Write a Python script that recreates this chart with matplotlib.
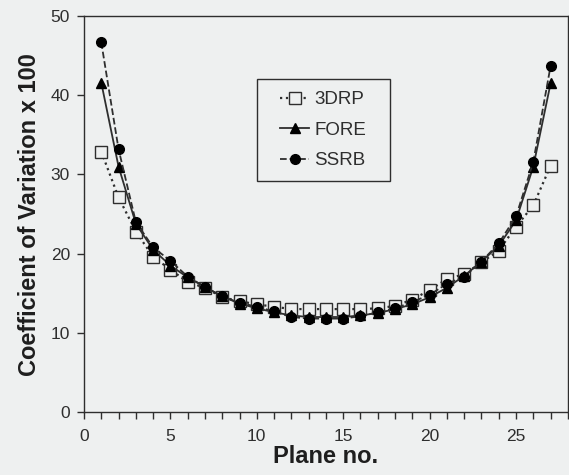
import matplotlib.pyplot as plt
from matplotlib.ticker import MultipleLocator
from matplotlib.patches import Rectangle

plt.rcParams['font.family'] = ['Liberation Sans', 'DejaVu Sans']

planes = list(range(1, 28))
drp3 = [32.9, 27.1, 22.8, 19.6, 18.0, 16.4, 15.7, 14.5, 14.0, 13.6, 13.3, 13.0, 13.0,
        13.0, 13.0, 13.0, 13.1, 13.4, 14.2, 15.4, 16.8, 17.4, 18.9, 20.4, 23.4, 26.1, 31.1]
fore = [41.6, 31.0, 23.8, 20.5, 18.5, 17.0, 15.8, 14.6, 13.7, 13.1, 12.6, 12.2, 12.0,
        12.0, 12.0, 12.2, 12.5, 13.0, 13.6, 14.5, 15.7, 17.2, 19.0, 21.0, 24.2, 31.0, 41.5]
ssrb = [46.7, 33.2, 24.0, 20.8, 19.1, 17.1, 15.8, 14.6, 13.8, 13.3, 12.7, 12.0, 11.8,
        11.8, 11.8, 12.1, 12.6, 13.1, 13.9, 14.8, 16.2, 17.1, 19.0, 21.3, 24.7, 31.6, 43.7]

bg = '#eef0f0'
ink = '#2e2e2e'

fig = plt.figure(figsize=(5.69, 4.75), dpi=100, facecolor=bg)
ax = fig.add_axes([0.1476, 0.1326, 0.8504, 0.8334])
ax.set_facecolor(bg)

ax.plot(planes, drp3, linestyle=':', color=ink, linewidth=1.6, marker='s', markersize=8,
        markerfacecolor=bg, markeredgecolor=ink, markeredgewidth=1.0, label='3DRP')
ax.plot(planes, fore, linestyle='-', color=ink, linewidth=1.3, marker='^', markersize=7,
        markerfacecolor='black', markeredgecolor='black', label='FORE')
ax.plot(planes, ssrb, linestyle='--', color=ink, linewidth=1.3, marker='o', markersize=7,
        markerfacecolor='black', markeredgecolor='black', label='SSRB')

ax.set_xlim(0, 28)
ax.set_ylim(0, 50)
ax.xaxis.set_minor_locator(MultipleLocator(1))
ax.yaxis.set_major_locator(MultipleLocator(10))
ax.set_xticks([0, 5, 10, 15, 20, 25])
ax.tick_params(axis='both', which='both', direction='out', length=5, width=1.0,
               colors=ink, labelsize=12.5)
ax.tick_params(axis='x', pad=7)
ax.tick_params(axis='y', pad=5)
for s in ax.spines.values():
    s.set_color(ink)
    s.set_linewidth(1.0)

ax.set_xlabel('Plane no.', fontsize=17, fontweight='bold', color='#1e1e1e', labelpad=1)
ax.set_ylabel('Coefficient of Variation x 100', fontsize=17, fontweight='bold',
              color='#1e1e1e', labelpad=7)

# legend box drawn separately so its padding matches the original
ax.add_patch(Rectangle((0.357, 0.583), 0.275, 0.258, transform=ax.transAxes,
                       facecolor=bg, edgecolor=ink, linewidth=1.0, zorder=4))
leg = ax.legend(loc='center', bbox_to_anchor=(0.4945, 0.712), fontsize=13.5,
                handlelength=1.5, frameon=False, labelspacing=0.72, handletextpad=0.3)
leg.set_zorder(5)
for t in leg.get_texts():
    t.set_color(ink)

plt.savefig('out.png', dpi=100, facecolor=bg)
